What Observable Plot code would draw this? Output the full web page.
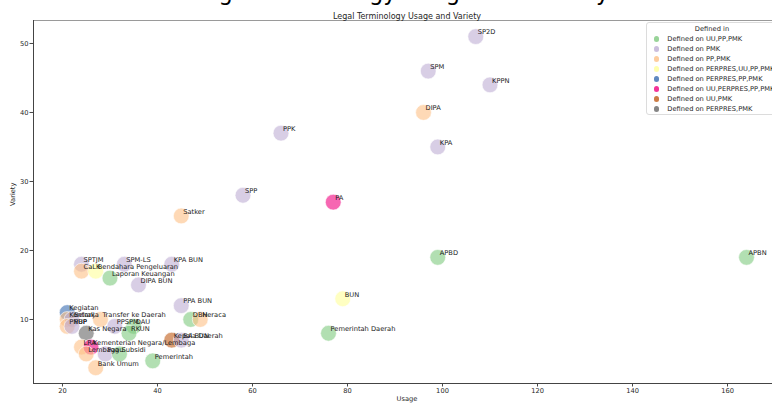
<!DOCTYPE html>
<html>
<head>
<meta charset="utf-8">
<script src="https://cdn.jsdelivr.net/npm/d3@7"></script>
<script src="https://cdn.jsdelivr.net/npm/@observablehq/plot@0.6"></script>
<style>
  body { margin: 0; background: #fff; }
  #wrap { position: relative; width: 772px; height: 404px; overflow: hidden; font-family: "DejaVu Sans", sans-serif; }
  #suptitle { position: absolute; left: 0; width: 802px; top: -19px; text-align: center;
              font: 22.5px "DejaVu Sans", sans-serif; line-height: 22.5px; color: #000; white-space: nowrap; }
  #legend { position: absolute; left: 646px; top: 22px; width: 132px; height: 93px; box-sizing: border-box;
            border: 1px solid #dcdcdc; border-radius: 3px; background: rgba(255,255,255,0.85);
            font-size: 6.7px; color: #262626; }
  #legend .ttl { position: absolute; left: 0; width: 130px; top: 1px; height: 10px; line-height: 10px; text-align: center; }
  #legend .row { position: absolute; left: 0; height: 10px; line-height: 10px; white-space: nowrap; }
  #legend .sw { position: absolute; left: 6.5px; top: 2.3px; width: 5.4px; height: 5.4px; border-radius: 50%; }
  #legend .lb { position: absolute; left: 20.3px; top: 0; }
</style>
</head>
<body>
<div id="wrap">
  <div id="chart"></div>
  <div id="suptitle"></div>
  <div id="legend"></div>
</div>
<script>
// Terms with how often they are used and how many variants they take
const terms = [
  "SP2D", "SPM", "KPPN", "DIPA", "KPA", "PPK", "SPP", "PA", "Satker",
  "APBD", "APBN", "BUN", "Pemerintah Daerah",
  "SPTJM", "CaLK", "Bendahara Pengeluaran", "SPM-LS", "KPA BUN",
  "Laporan Keuangan", "DIPA BUN", "PPA BUN", "DBH", "Neraca",
  "Kegiatan", "Kontrak", "Belanja", "Transfer ke Daerah", "PNBP", "PUP",
  "PPSPM", "DAU", "Kas Negara", "RKUN", "LRA", "Kementerian Negara/Lembaga",
  "Lembaga", "Pagu", "Subsidi", "Bank Umum", "Pemerintah", "Kepala Daerah", "BA BUN"
];
const usage = [
  107, 97, 110, 96, 99, 66, 58, 77, 45,
  99, 164, 79, 76,
  24, 24, 27, 33, 43,
  30, 36, 45, 47, 49,
  21, 21, 22, 28, 21, 22,
  31, 35, 25, 34, 24, 26,
  25, 29, 32, 27, 39, 43, 45
];
const variety = [
  51, 46, 44, 40, 35, 37, 28, 27, 25,
  19, 19, 13, 8,
  18, 17, 17, 18, 18,
  16, 15, 12, 10, 10,
  11, 10, 10, 10, 9, 9,
  9, 9, 8, 8, 6, 6,
  5, 5, 5, 3, 4, 7, 7
];
const definedIn = [
  "PMK", "PMK", "PMK", "PP,PMK", "PMK", "PMK", "PMK", "UU,PERPRES,PP,PMK", "PP,PMK",
  "UU,PP,PMK", "UU,PP,PMK", "PERPRES,UU,PP,PMK", "UU,PP,PMK",
  "PMK", "PP,PMK", "PERPRES,UU,PP,PMK", "PMK", "PMK",
  "UU,PP,PMK", "PMK", "PMK", "UU,PP,PMK", "PP,PMK",
  "PERPRES,PP,PMK", "PP,PMK", "PMK", "PP,PMK", "PP,PMK", "PMK",
  "PMK", "UU,PP,PMK", "PERPRES,PMK", "UU,PP,PMK", "PP,PMK", "UU,PERPRES,PP,PMK",
  "PP,PMK", "PMK", "UU,PP,PMK", "PP,PMK", "UU,PP,PMK", "UU,PMK", "PMK"
];

// Legend order of the regulation groups
const groups = [
  "UU,PP,PMK", "PMK", "PP,PMK", "PERPRES,UU,PP,PMK",
  "PERPRES,PP,PMK", "UU,PERPRES,PP,PMK", "UU,PMK", "PERPRES,PMK"
];
const groupColors = d3.schemeAccent;

const xTicks = [20, 40, 60, 80, 100, 120, 140, 160];
const yTicks = [10, 20, 30, 40, 50];
const xDomain = [13.9, 169.47];
const yDomain = [0.72, 53.33];

const title = "Legal Terminology Usage and Variety";

const rows = terms.map((term, i) => ({
  term,
  usage: usage[i],
  variety: variety[i],
  group: "Defined on " + definedIn[i]
}));

const chart = Plot.plot({
  width: 772,
  height: 404,
  marginLeft: 33,
  marginRight: 0,
  marginTop: 20,
  marginBottom: 21,
  style: { fontFamily: '"DejaVu Sans", sans-serif', fontSize: "6.7px", color: "#262626", background: "white" },
  x: { domain: xDomain },
  y: { domain: yDomain },
  color: { domain: groups.map(g => "Defined on " + g), range: groupColors },
  marks: [
    Plot.ruleY([yDomain[1]], { stroke: "#9a9a9a", strokeWidth: 1 }),
    Plot.ruleX([xDomain[0]], { stroke: "#444", strokeWidth: 1 }),
    Plot.ruleY([yDomain[0]], { stroke: "#444", strokeWidth: 1 }),
    Plot.axisX({ ticks: xTicks, tickSize: 3.5, tickPadding: 1.5, label: null, stroke: "#444" }),
    Plot.axisY({ ticks: yTicks, tickSize: 3.5, tickPadding: 1.5, label: null, stroke: "#444" }),
    Plot.dot(rows, {
      x: "usage", y: "variety", r: 7.9,
      fill: "group", fillOpacity: 0.6, stroke: "white", strokeWidth: 0.6
    }),
    Plot.text(rows, {
      x: "usage", y: "variety", text: "term",
      textAnchor: "start", dx: 2, dy: -4.4, fill: "#1a1a1a"
    }),
    Plot.text([title], { text: d => d, frameAnchor: "top", dx: 4, dy: -7, fontSize: 8, fill: "#262626" }),
    Plot.text(["Usage"], { text: d => d, frameAnchor: "bottom", dx: 4, dy: 17, fill: "#262626" }),
    Plot.text(["Variety"], { text: d => d, frameAnchor: "left", dx: -21, dy: 4, rotate: -90, fill: "#262626" })
  ]
});
document.getElementById("chart").appendChild(chart);

// Large figure heading, running off the top edge
document.getElementById("suptitle").textContent = title;

// Group legend, built from the chart's own color scale
const color = chart.scale("color");
const legend = document.getElementById("legend");
const head = document.createElement("div");
head.className = "ttl";
head.textContent = "Defined in";
legend.appendChild(head);
color.domain.forEach((name, i) => {
  const row = document.createElement("div");
  row.className = "row";
  row.style.top = (11 + i * 10) + "px";
  const sw = document.createElement("span");
  sw.className = "sw";
  sw.style.background = color.range[i];
  sw.style.opacity = 0.8;
  const lb = document.createElement("span");
  lb.className = "lb";
  lb.textContent = name;
  row.appendChild(sw);
  row.appendChild(lb);
  legend.appendChild(row);
});
</script>
</body>
</html>
